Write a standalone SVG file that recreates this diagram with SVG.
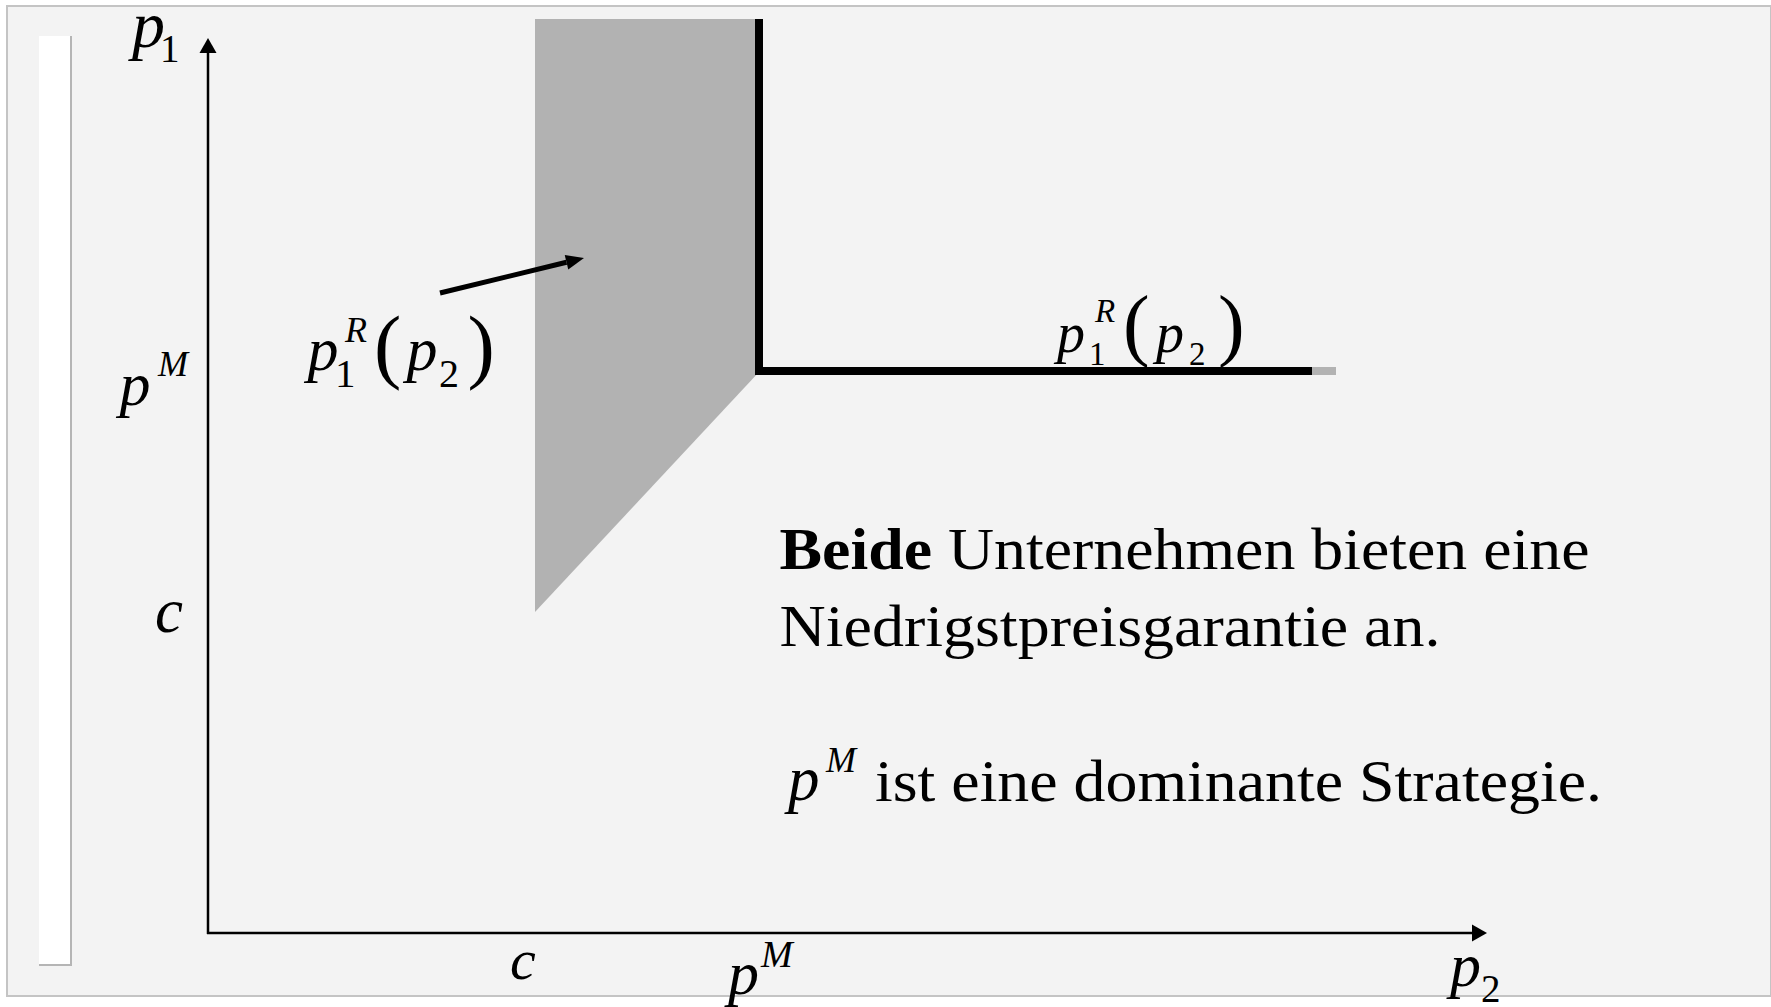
<svg xmlns="http://www.w3.org/2000/svg" width="1771" height="1007" viewBox="0 0 1771 1007">
<style>
.t{font-family:"Liberation Serif","Times New Roman",serif;fill:#000}
.i{font-style:italic}
.ax{stroke:#000;stroke-width:2.5;fill:none}
</style>
<defs>
<marker id="axhead" markerUnits="userSpaceOnUse" markerWidth="16" markerHeight="17" refX="0" refY="8.5" orient="auto" overflow="visible">
<path d="M0,0 L15,8.5 L0,17 z" fill="#000"/>
</marker>
<marker id="ptrhead" markerUnits="userSpaceOnUse" markerWidth="19" markerHeight="15" refX="0" refY="7.5" orient="auto" overflow="visible">
<path d="M0,0 L18,7.5 L0,15 z" fill="#000"/>
</marker>
</defs>
<rect width="1771" height="1007" fill="#ffffff"/>
<g id="background">
<rect x="7" y="6" width="1764" height="990" fill="#f3f3f3" stroke="#c4c4c4" stroke-width="2"/>
<rect x="39" y="36" width="32" height="929" fill="#ffffff"/>
<path d="M71,36 V965 H39" fill="none" stroke="#b5b5b5" stroke-width="2"/>
</g>
<g id="region">
<polygon points="535,19 759,19 759,372 535,612" fill="#b2b2b2"/>
</g>
<g id="reaction-function">
<path d="M759,19 V371 H1312" fill="none" stroke="#000" stroke-width="8" stroke-linejoin="miter"/>
<path d="M1312,371 H1336" fill="none" stroke="#b2b2b2" stroke-width="8"/>
</g>
<g id="connectors">
<path class="ax" d="M208,934 V53" marker-end="url(#axhead)"/>
<path class="ax" d="M207,933 H1472" marker-end="url(#axhead)"/>
<path d="M440,293 L566.5,262.3" stroke="#000" stroke-width="5" fill="none" marker-end="url(#ptrhead)"/>
</g>
<g id="axis-labels">
<text class="t"><tspan class="i" x="132" y="47" font-size="66">p</tspan><tspan x="160" y="62" font-size="39">1</tspan></text>
<text class="t"><tspan class="i" x="119.6" y="405" font-size="62">p</tspan><tspan class="i" x="158" y="376" font-size="36">M</tspan></text>
<text class="t i" x="155" y="632" font-size="63">c</text>
<text class="t i" x="510" y="979" font-size="58">c</text>
<text class="t"><tspan class="i" x="728" y="994" font-size="62">p</tspan><tspan class="i" x="761" y="967" font-size="38">M</tspan></text>
<text class="t"><tspan class="i" x="1450" y="986" font-size="62">p</tspan><tspan x="1481" y="1002" font-size="39">2</tspan></text>
</g>
<g id="label-left">
<text class="t"><tspan class="i" x="307.6" y="370" font-size="62">p</tspan><tspan x="335" y="387" font-size="41">1</tspan><tspan class="i" x="345" y="342" font-size="36">R</tspan><tspan x="374" y="372.5" font-size="82">(</tspan><tspan class="i" x="406.6" y="370" font-size="62">p</tspan><tspan x="439" y="387" font-size="40">2</tspan><tspan x="467.6" y="372.5" font-size="82">)</tspan></text>
</g>
<g id="label-right">
<text class="t"><tspan class="i" x="1057" y="351.5" font-size="56">p</tspan><tspan x="1089" y="365" font-size="33">1</tspan><tspan class="i" x="1095" y="322" font-size="33">R</tspan><tspan x="1123" y="351" font-size="80">(</tspan><tspan class="i" x="1156" y="351.5" font-size="56">p</tspan><tspan x="1189" y="365" font-size="33">2</tspan><tspan x="1218" y="351" font-size="80">)</tspan></text>
</g>
<g id="text-block">
<text class="t" x="779.5" y="569" font-size="60" textLength="810" lengthAdjust="spacingAndGlyphs"><tspan font-weight="bold">Beide</tspan> Unternehmen bieten eine</text>
<text class="t" x="779.5" y="646" font-size="60" textLength="661" lengthAdjust="spacingAndGlyphs">Niedrigstpreisgarantie an.</text>
<text class="t"><tspan class="i" x="788" y="800" font-size="63">p</tspan><tspan class="i" x="826" y="772" font-size="36">M</tspan></text>
<text class="t" x="875" y="801" font-size="60" textLength="727" lengthAdjust="spacingAndGlyphs">ist eine dominante Strategie.</text>
</g>
</svg>
